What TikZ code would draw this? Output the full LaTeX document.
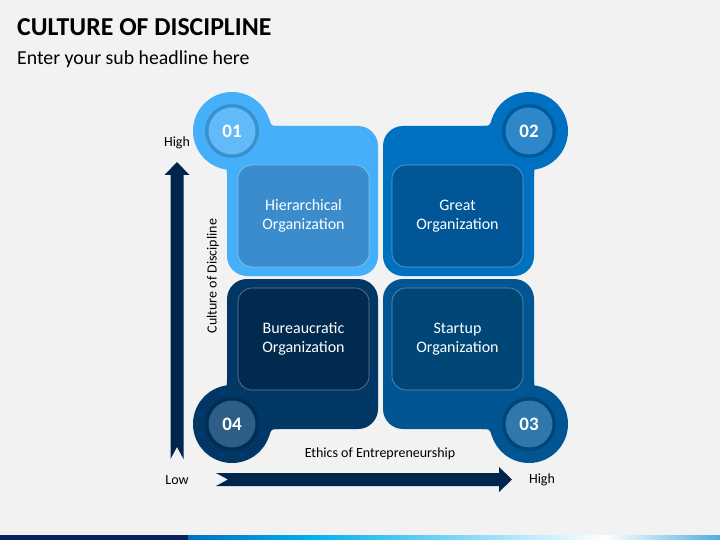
\documentclass[tikz,border=0pt]{standalone}
\usepackage{fontspec}
\setmainfont{Carlito}
\usetikzlibrary{calc}

\definecolor{bggray}{HTML}{F2F2F2}
\definecolor{axisblue}{HTML}{00264D}
\definecolor{q1out}{HTML}{45B0F9}
\definecolor{q1in}{HTML}{3A8CCC}
\definecolor{q1num}{HTML}{62BBF8}
\definecolor{q2out}{HTML}{0070C0}
\definecolor{q2in}{HTML}{005696}
\definecolor{q2num}{HTML}{2E87C8}
\definecolor{q3out}{HTML}{005592}
\definecolor{q3in}{HTML}{004677}
\definecolor{q3num}{HTML}{2E78AB}
\definecolor{q4out}{HTML}{003764}
\definecolor{q4in}{HTML}{002A4E}
\definecolor{q4num}{HTML}{2E5E85}
\definecolor{stripnavy}{HTML}{0B2161}
\definecolor{stripblue}{HTML}{0070C0}
\definecolor{stripcyan}{HTML}{00B0F0}
\definecolor{striplight}{HTML}{4FAEE0}

% one quadrant, drawn in the top-left position round the grid centre
\newcommand\quadbody[1]{%
  \fill[#1,rounded corners=20pt] (-153.5,-151.5) rectangle (-2.5,-1.5);
  \fill[#1] (-148.5,-146.5) circle[radius=39pt];
  \fill[#1] (-111.4,-158.4) .. controls (-109.1,-151.5) .. (-101.9,-151.5) -- (-120,-151.5) -- cycle;
  \fill[#1] (-158.4,-111.4) .. controls (-153.5,-109.1) .. (-153.5,-101.9) -- (-153.5,-120) -- cycle;
  \fill[black,opacity=.18] (-148.5,-146.5) circle[radius=27pt];
}

\begin{document}
\begin{tikzpicture}[x=1pt,y=-1pt,
    numcirc/.style={circle,minimum size=47pt,inner sep=0pt,text=white,
      font=\fontsize{19}{22}\selectfont\bfseries},
    innerbox/.style={rounded corners=14pt,minimum width=131pt,minimum height=102pt,
      draw=white,draw opacity=.4,line width=.6pt,text=white,align=center,
      font=\fontsize{16}{19}\selectfont},
    lbl/.style={font=\fontsize{14}{16}\selectfont},
    axis/.style={fill=axisblue}]
  \fill[bggray] (0,0) rectangle (720,540);
  \useasboundingbox (0,0) rectangle (720,540);

  % headline
  \node[anchor=base west,inner sep=0pt,font=\fontsize{25.8}{30}\selectfont\bfseries] (title) at (17,36) {CULTURE OF DISCIPLINE};
  \node[anchor=base west,inner sep=0pt,font=\fontsize{19.8}{24}\selectfont] (subtitle) at (17,65) {Enter your sub headline here};

  % quadrants
  \begin{scope}[shift={(380.5,277.5)}]
    \quadbody{q1out}
    \node[numcirc,fill=q1num] (n1) at (-148.5,-146.5) {01};
    \node[innerbox,fill=q1in] (hier) at (-77,-61.5) {Hierarchical\\Organization};
  \end{scope}
  \begin{scope}[shift={(380.5,277.5)},xscale=-1]
    \quadbody{q2out}
    \node[numcirc,fill=q2num] (n2) at (-148.5,-146.5) {02};
    \node[innerbox,fill=q2in] (great) at (-77,-61.5) {Great\\Organization};
  \end{scope}
  \begin{scope}[shift={(380.5,277.5)},xscale=-1,yscale=-1]
    \quadbody{q3out}
    \node[numcirc,fill=q3num] (n3) at (-148.5,-146.5) {03};
    \node[innerbox,fill=q3in] (start) at (-77,-61.5) {Startup\\Organization};
  \end{scope}
  \begin{scope}[shift={(380.5,277.5)},yscale=-1]
    \quadbody{q4out}
    \node[numcirc,fill=q4num] (n4) at (-148.5,-146.5) {04};
    \node[innerbox,fill=q4in] (bureau) at (-77,-61.5) {Bureaucratic\\Organization};
  \end{scope}

  % axes
  \coordinate (ylow) at (177,459);
  \coordinate (yhigh) at (177,162);
  \coordinate (xlow) at (216,479.5);
  \coordinate (xhigh) at (512,479.5);
  \fill[axis] ($(ylow)+(-6.5,0)$) -- ($(yhigh)+(-6.5,13)$) -- ($(yhigh)+(-12.5,13)$) -- (yhigh)
    -- ($(yhigh)+(12.5,13)$) -- ($(yhigh)+(6.5,13)$) -- ($(ylow)+(6.5,0)$) -- ($(ylow)+(0,-12)$) -- cycle;
  \fill[axis] ($(xlow)+(0,-6.5)$) -- ($(xhigh)+(-13,-6.5)$) -- ($(xhigh)+(-13,-12.5)$) -- (xhigh)
    -- ($(xhigh)+(-13,12.5)$) -- ($(xhigh)+(-13,6.5)$) -- ($(xlow)+(0,6.5)$) -- ($(xlow)+(12,0)$) -- cycle;
  \node[lbl] (yhighlbl) at (177,143) {High};
  \node[lbl] (lowlbl) at (177,480) {Low};
  \node[lbl] (xhighlbl) at (542,480) {High};
  \node[lbl,rotate=90] (ytitle) at (213,276) {Culture of Discipline};
  \node[lbl] (xtitle) at (380,454) {Ethics of Entrepreneurship};

  % strip at the foot
  \fill[stripnavy] (0,535) rectangle (188,540);
  \shade[left color=stripblue,right color=stripcyan] (188,535) rectangle (312,540);
  \shade[left color=stripcyan,right color=white] (312,535) rectangle (605,540);
  \shade[left color=white,right color=striplight] (605,535) rectangle (720,540);
\end{tikzpicture}
\end{document}
